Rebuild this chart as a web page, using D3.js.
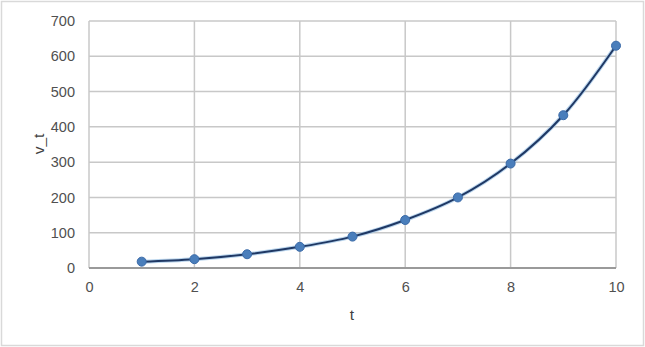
<!DOCTYPE html>
<html><head><meta charset="utf-8">
<script src="https://cdn.jsdelivr.net/npm/d3@7"></script>
<style>body{margin:0;background:#fff}svg{display:block}</style>
</head><body>
<script>
const tValues = [1,2,3,4,5,6,7,8,9,10];
const vValues = [18,25,39,60,89,136,200,296,433,630];
const xTicks = [0,2,4,6,8,10];
const yTicks = [0,100,200,300,400,500,600,700];

const W = 645, H = 347;
const m = {left:89, right:29, top:21, bottom:79};
const svg = d3.select("body").append("svg").attr("width",W).attr("height",H);
svg.append("rect").attr("x",1.5).attr("y",1.5).attr("width",W-3).attr("height",H-3)
  .attr("fill","#fff").attr("stroke","#d9d9d9").attr("stroke-width",1.5);

const x = d3.scaleLinear().domain([0,10]).range([m.left, W-m.right]);
const y = d3.scaleLinear().domain([0,700]).range([H-m.bottom, m.top]);
const font = "'Liberation Sans', Arial, sans-serif";

// grid
svg.append("g").selectAll("line").data(yTicks.slice(1)).join("line")
  .attr("x1",x(0)).attr("x2",x(10)).attr("y1",d=>y(d)).attr("y2",d=>y(d))
  .attr("stroke","#c8c8c8").attr("stroke-width",1.5);
svg.append("g").selectAll("line").data(xTicks).join("line")
  .attr("x1",d=>x(d)).attr("x2",d=>x(d)).attr("y1",y(0)).attr("y2",y(700))
  .attr("stroke","#c8c8c8").attr("stroke-width",1.5);
// bottom axis line
svg.append("line").attr("x1",x(0)).attr("x2",x(10)).attr("y1",y(0)).attr("y2",y(0))
  .attr("stroke","#9a9a9a").attr("stroke-width",2);

// axes text via d3 axes
const gx = svg.append("g").attr("transform",`translate(0,${y(0)})`)
  .call(d3.axisBottom(x).tickValues(xTicks).tickSize(0).tickPadding(14).tickFormat(d3.format("d")));
gx.select(".domain").remove();
gx.selectAll("text").attr("font-family",font).attr("font-size",14.5).attr("fill","#505050");
const gy = svg.append("g").attr("transform",`translate(${x(0)},0)`)
  .call(d3.axisLeft(y).tickValues(yTicks).tickSize(0).tickPadding(14).tickFormat(d3.format("d")));
gy.select(".domain").remove();
gy.selectAll("text").attr("font-family",font).attr("font-size",14.5).attr("fill","#505050");

svg.append("text").attr("x",352).attr("y",320).attr("text-anchor","middle")
  .attr("font-family",font).attr("font-size",15.5).attr("fill","#404040").text("t");
svg.append("text").attr("transform",`translate(44,${144}) rotate(-90)`).attr("text-anchor","middle")
  .attr("font-family",font).attr("font-size",15.5).attr("fill","#404040").text("v_t");

const data = tValues.map((t,i)=>({t, v:vValues[i]}));
const line = d3.line().x(d=>x(d.t)).y(d=>y(d.v)).curve(d3.curveCatmullRom);
svg.append("path").datum(data).attr("d",line).attr("fill","none")
  .attr("stroke","#9dc3e6").attr("stroke-width",4).attr("opacity",0.7);
svg.append("path").datum(data).attr("d",line).attr("fill","none")
  .attr("stroke","#1f3864").attr("stroke-width",2);
svg.append("g").selectAll("circle").data(data).join("circle")
  .attr("cx",d=>x(d.t)).attr("cy",d=>y(d.v)).attr("r",4.5)
  .attr("fill","#4a7ebb").attr("stroke","#3a6aa8").attr("stroke-width",1);
</script>
</body></html>
